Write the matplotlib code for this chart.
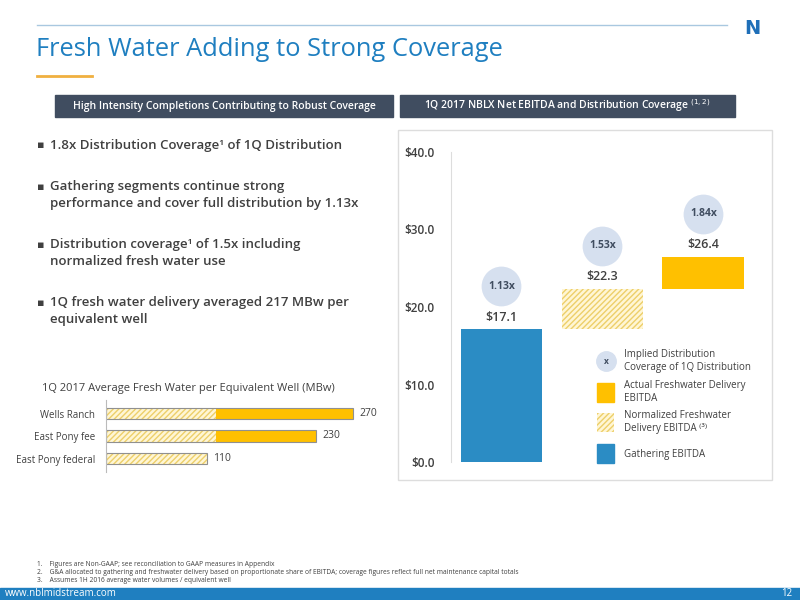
import matplotlib
matplotlib.use("Agg")
import matplotlib.pyplot as plt
from matplotlib.patches import Rectangle
from matplotlib.lines import Line2D

plt.rcParams['font.family'] = ['Open Sans', 'DejaVu Sans']

# data
wf_cats = ["Gathering EBITDA", "Normalized Freshwater", "Actual Freshwater"]
wf_vals = [17.1, 5.2, 4.1]
wf_totals = ["$17.1", "$22.3", "$26.4"]
coverage = ["1.13x", "1.53x", "1.84x"]
y_ticks = [0, 10, 20, 30, 40]

wells = ["Wells Ranch", "East Pony fee", "East Pony federal"]
normal_part = [120, 120, 110]
actual_part = [150, 110, 0]
well_totals = [270, 230, 110]

BLUE = '#2B8CC4'
GOLD = '#FFC000'
HATCH_FACE = '#FFF6D5'
HATCH_EDGE = '#EDCF6A'
TXT = '#404040'

fig = plt.figure(figsize=(8, 6), dpi=100)
W, H = 800, 600
def fx(x): return x / W
def fy(y): return 1 - y / H

def frect(x0, y0, x1, y1, **kw):
    fig.patches.append(Rectangle((fx(x0), fy(y1)), fx(x1) - fx(x0), fy(y0) - fy(y1),
                                 transform=fig.transFigure, **kw))

# header decorations
fig.add_artist(Line2D([fx(37), fx(727)], [fy(25), fy(25)], color='#A9C8E0', lw=1))
fig.add_artist(Line2D([fx(37), fx(92)], [fy(76), fy(76)], color='#F0B040', lw=2))
fig.text(fx(752), fy(28), "N", color='#1F6FB8', fontsize=14, fontweight='bold',
         ha='center', va='center', family='DejaVu Sans')
fig.text(fx(36), fy(50), "Fresh Water Adding to Strong Coverage", color='#1F7FC0',
         fontsize=18.4, va='center', ha='left')

frect(55, 95, 393, 117, color='#404D60', zorder=0)
frect(400, 95, 735, 117, color='#404D60', zorder=0)
fig.text(fx(224), fy(106), "High Intensity Completions Contributing to Robust Coverage",
         color='white', fontsize=7.5, ha='center', va='center', fontweight='semibold')
fig.text(fx(567), fy(106), r"1Q 2017 NBLX Net EBITDA and Distribution Coverage $^{(1,2)}$",
         color='white', fontsize=7.5, ha='center', va='center', fontweight='semibold')

# bullets
bullets = [(145, "1.8x Distribution Coverage¹ of 1Q Distribution"),
           (195, "Gathering segments continue strong\nperformance and cover full distribution by 1.13x"),
           (253, "Distribution coverage¹ of 1.5x including\nnormalized fresh water use"),
           (311, "1Q fresh water delivery averaged 217 MBw per\nequivalent well")]
for y, t in bullets:
    nl = t.count("\n")
    fig.text(fx(37), fy(y - nl * 8), "▪", color=TXT, fontsize=8, va='center', family='DejaVu Sans')
    fig.text(fx(50), fy(y), t, color=TXT, fontsize=9.5, va='center', fontweight='semibold',
             linespacing=1.35)

# right chart frame
frect(398, 130, 772, 480, fill=False, edgecolor='#DDDDDD', lw=1)
ax = fig.add_axes([fx(451), fy(462), fx(774) - fx(451), fy(152) - fy(462)])
x = [0, 1, 2]
bottoms = [0, wf_vals[0], wf_vals[0] + wf_vals[1]]
bw = 0.81
ax.bar(x[0], wf_vals[0], bottom=bottoms[0], width=bw, color=BLUE, zorder=2)
ax.bar(x[1], wf_vals[1], bottom=bottoms[1], width=bw, facecolor=HATCH_FACE,
       edgecolor=HATCH_EDGE, hatch='//////', lw=0, zorder=2)
ax.bar(x[2], wf_vals[2], bottom=bottoms[2], width=bw, color=GOLD, zorder=2)
for i in range(3):
    top = bottoms[i] + wf_vals[i]
    ax.text(x[i], top + 1.6, wf_totals[i], ha='center', va='center', fontsize=9,
            fontweight='semibold', color=TXT)
    ax.scatter([x[i]], [top + 5.6], s=820, color='#D6E0EF', zorder=3, lw=0)
    ax.text(x[i], top + 5.6, coverage[i], ha='center', va='center', fontsize=7.5,
            fontweight='bold', color='#404D60', zorder=4)
ax.set_xlim(-0.5, 2.7)
ax.set_ylim(0, 40)
ax.set_yticks(y_ticks)
ax.set_yticklabels([f"${v:.1f}" for v in y_ticks], fontsize=8.5, color=TXT,
                   fontweight='semibold')
ax.tick_params(axis='y', length=0, pad=12)
ax.set_xticks([])
for s in ['top', 'right', 'bottom']:
    ax.spines[s].set_visible(False)
ax.spines['left'].set_color('#DDDDDD')
ax.patch.set_alpha(0)

# legend
fig.add_artist(Line2D([fx(606)], [fy(361)], marker='o', markersize=14, color='#D6E0EF', lw=0))
fig.text(fx(606), fy(362), "x", fontsize=6, ha='center', va='center', color='#404D60', fontweight='bold')
frect(597, 383, 614, 402, color=GOLD)
frect(597, 413, 614, 432, facecolor=HATCH_FACE, edgecolor=HATCH_EDGE, hatch='//////', lw=0)
frect(597, 444, 614, 463, color=BLUE)
leg = [(361, "Implied Distribution\nCoverage of 1Q Distribution"),
       (392, "Actual Freshwater Delivery\nEBITDA"),
       (422, "Normalized Freshwater\nDelivery EBITDA ⁽³⁾"),
       (454, "Gathering EBITDA")]
for y, t in leg:
    fig.text(fx(624), fy(y), t, fontsize=7, va='center', color=TXT, linespacing=1.2)

# left bar chart
fig.text(fx(188), fy(388), "1Q 2017 Average Fresh Water per Equivalent Well (MBw)",
         fontsize=8, ha='center', va='center', color=TXT)
ax2 = fig.add_axes([fx(106), fy(472), (300 * 247 / 270) / W, fy(400) - fy(472)])
yp = [0, 1, 2]
ax2.barh(yp, normal_part, height=0.52, facecolor=HATCH_FACE, edgecolor=HATCH_EDGE,
         hatch='//////', lw=0)
ax2.barh(yp, actual_part, left=normal_part, height=0.52, color=GOLD, lw=0)
ax2.barh(yp, well_totals, height=0.52, fill=False, edgecolor='#909090', lw=0.8)
for i in range(3):
    ax2.text(well_totals[i] + 7, yp[i], str(well_totals[i]), va='center', fontsize=7.5, color=TXT)
ax2.set_yticks(yp)
ax2.set_yticklabels(wells, fontsize=7, color=TXT)
ax2.tick_params(axis='y', length=0, pad=8)
ax2.set_xticks([])
ax2.set_xlim(0, 300)
ax2.set_ylim(2.6, -0.6)
for s in ['top', 'right', 'bottom']:
    ax2.spines[s].set_visible(False)
ax2.spines['left'].set_color('#BBBBBB')
ax2.patch.set_alpha(0)

# footnotes
notes = ["1.    Figures are Non-GAAP; see reconciliation to GAAP measures in Appendix",
         "2.    G&A allocated to gathering and freshwater delivery based on proportionate share of EBITDA; coverage figures reflect full net maintenance capital totals",
         "3.    Assumes 1H 2016 average water volumes / equivalent well"]
for i, t in enumerate(notes):
    fig.text(fx(37), fy(565 + 7.5 * i), t, fontsize=4.8, va='center', color=TXT)

frect(0, 588, 800, 600, color='#1F7FC0')
fig.text(fx(5), fy(594), "www.nblmidstream.com", color='white', fontsize=7, va='center')
fig.text(fx(792), fy(594), "12", color='white', fontsize=7, va='center', ha='right')

fig.savefig("out.png", dpi=100)
